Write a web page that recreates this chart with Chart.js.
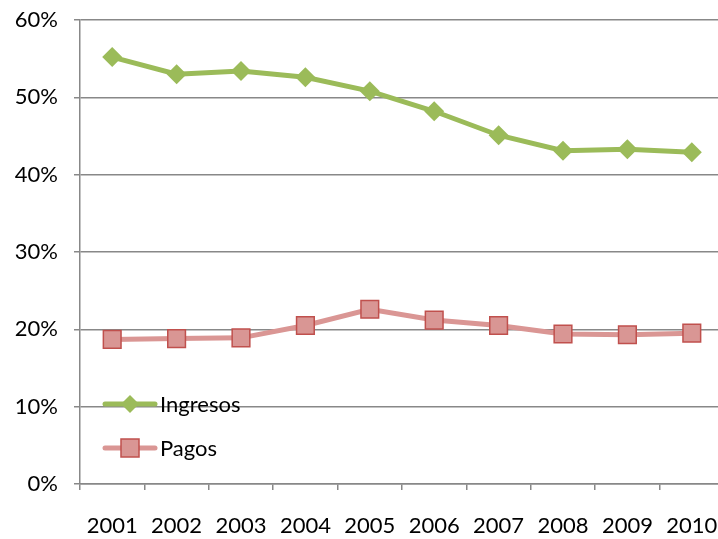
<!DOCTYPE html>
<html>
<head>
<meta charset="utf-8">
<script src="https://cdn.jsdelivr.net/npm/chart.js@4.4.1/dist/chart.umd.min.js"></script>
<style>
html,body{margin:0;padding:0;background:#fff;overflow:hidden;}
#wrap{width:718px;height:539px;position:relative;overflow:hidden;}
#c{display:block;}
</style>
</head>
<body>
<div id="wrap"><canvas id="c" width="724" height="539"></canvas></div>
<script>
const years = ['2001','2002','2003','2004','2005','2006','2007','2008','2009','2010'];
const ingresos = [55.2, 53.0, 53.4, 52.6, 50.8, 48.2, 45.1, 43.1, 43.3, 42.9];
const pagos = [18.7, 18.8, 18.9, 20.5, 22.6, 21.2, 20.5, 19.4, 19.3, 19.5];
const yTicks = [0, 10, 20, 30, 40, 50, 60];
const seriesNames = ['Ingresos', 'Pagos'];

const FONT = 'Lato';
const GREEN = '#9BBB59';
const PINK_LINE = '#DA9694';
const PINK_FILL = '#D99694';
const PINK_EDGE = '#C0504D';
const GRID = '#888888';

const insideLegend = {
  id: 'insideLegend',
  afterDraw(chart) {
    const ctx = chart.ctx;
    const items = [
      {name: seriesNames[0], y: 404, color: GREEN, shape: 'diamond'},
      {name: seriesNames[1], y: 448, color: PINK_LINE, shape: 'square'}
    ];
    ctx.save();
    items.forEach(it => {
      ctx.strokeStyle = it.color;
      ctx.lineWidth = 5;
      ctx.lineCap = 'round';
      ctx.beginPath();
      ctx.moveTo(105, it.y);
      ctx.lineTo(155, it.y);
      ctx.stroke();
      const cx = 130;
      if (it.shape === 'diamond') {
        ctx.fillStyle = GREEN;
        ctx.beginPath();
        ctx.moveTo(cx - 9, it.y);
        ctx.lineTo(cx, it.y - 9);
        ctx.lineTo(cx + 9, it.y);
        ctx.lineTo(cx, it.y + 9);
        ctx.closePath();
        ctx.fill();
      } else {
        ctx.fillStyle = PINK_FILL;
        ctx.strokeStyle = PINK_EDGE;
        ctx.lineWidth = 1.5;
        ctx.fillRect(cx - 9, it.y - 9, 18, 18);
        ctx.strokeRect(cx - 9, it.y - 9, 18, 18);
      }
      ctx.fillStyle = '#000';
      ctx.font = '22px ' + FONT;
      ctx.textBaseline = 'middle';
      ctx.textAlign = 'left';
      ctx.fillText(it.name, 160, it.y + 1);
    });
    ctx.restore();
  }
};

new Chart(document.getElementById('c'), {
  type: 'line',
  data: {
    labels: years,
    datasets: [
      {
        label: seriesNames[0],
        data: ingresos,
        borderColor: GREEN,
        backgroundColor: GREEN,
        borderWidth: 5,
        pointStyle: 'rectRot',
        pointRadius: 10,
        pointBorderWidth: 0,
        pointBackgroundColor: GREEN,
        tension: 0
      },
      {
        label: seriesNames[1],
        data: pagos,
        borderColor: PINK_LINE,
        backgroundColor: PINK_FILL,
        borderWidth: 5,
        pointStyle: 'rect',
        pointRadius: 12.5,
        pointBorderWidth: 1.5,
        pointBorderColor: PINK_EDGE,
        pointBackgroundColor: PINK_FILL,
        tension: 0
      }
    ]
  },
  options: {
    responsive: false,
    animation: false,
    layout: {autoPadding: false, padding: {top: 20, right: 0, left: 0, bottom: 0}},
    plugins: {legend: {display: false}, tooltip: {enabled: false}},
    scales: {
      x: {
        offset: true,
        grid: {offset: true, drawOnChartArea: false, drawTicks: true, tickLength: 6, color: GRID, lineWidth: 1.5},
        border: {display: true, color: GRID, width: 1.5},
        ticks: {color: '#000', font: {family: FONT, size: 22}, padding: 23, maxRotation: 0, autoSkip: false},
        afterFit(s) { s.height = 55; s.paddingLeft = 0; s.paddingRight = 0; }
      },
      y: {
        min: 0, max: 60,
        afterBuildTicks(s) { s.ticks = yTicks.map(v => ({value: v})); },
        grid: {color: GRID, lineWidth: 1.5, tickLength: 6, drawTicks: true},
        border: {display: true, color: GRID, width: 1.5},
        ticks: {color: '#000', font: {family: FONT, size: 22}, padding: 16, callback: v => v + '%'},
        afterFit(s) { s.width = 80; s.paddingTop = 0; s.paddingBottom = 0; }
      }
    }
  },
  plugins: [insideLegend]
});
</script>
</body>
</html>
